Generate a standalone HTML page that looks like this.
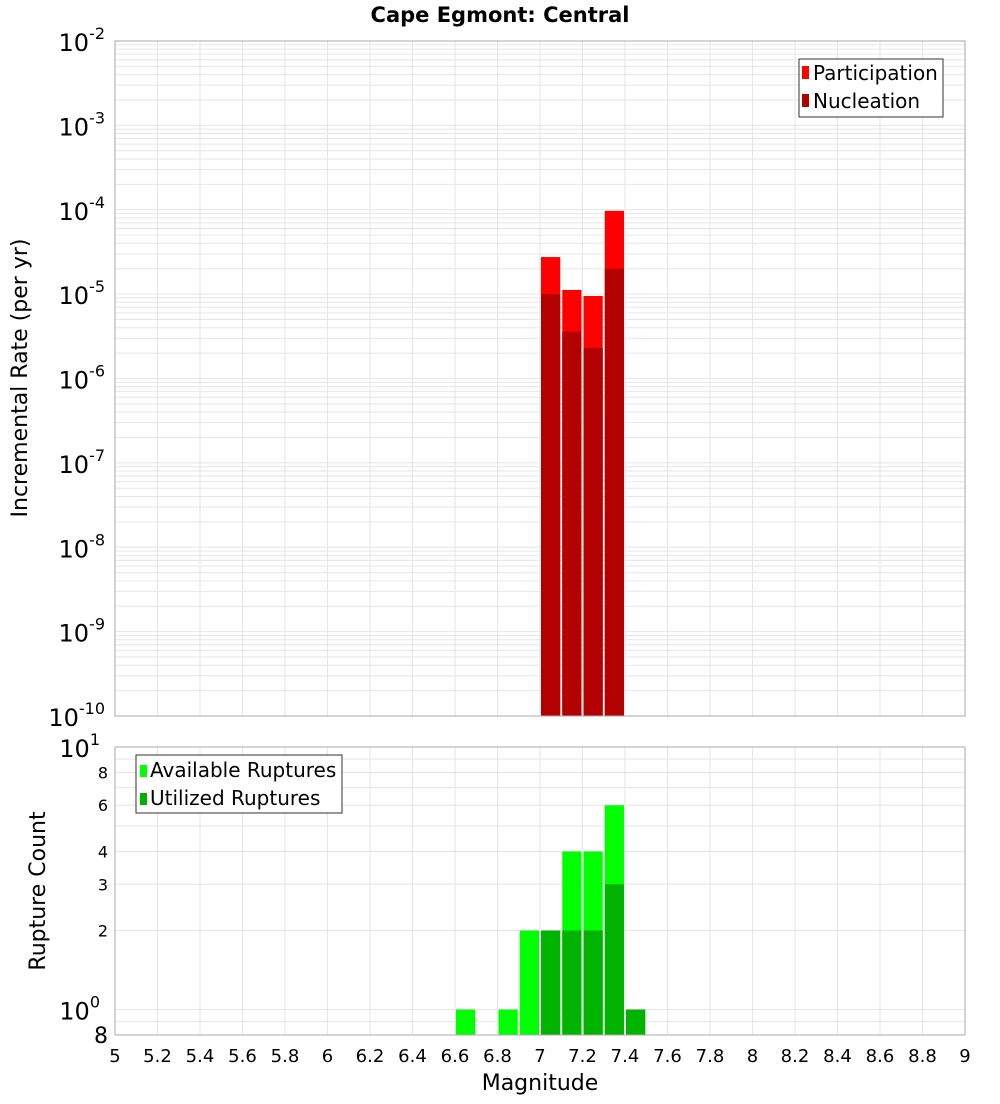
<!DOCTYPE html>
<html><head><meta charset="utf-8"><style>
body{margin:0;background:#fff;font-family:"DejaVu Sans","Liberation Sans",sans-serif}
</style></head><body>
<svg id="c" width="1000" height="1100" xmlns="http://www.w3.org/2000/svg" font-family="DejaVu Sans, Liberation Sans, sans-serif">
<text x="500" y="22" text-anchor="middle" font-size="21" font-weight="bold">Cape Egmont: Central</text>
<g id="topg"></g>
<g id="botg"></g>
<text transform="translate(27,378) rotate(-90)" text-anchor="middle" font-size="22">Incremental Rate (per yr)</text>
<text transform="translate(45,891) rotate(-90)" text-anchor="middle" font-size="22">Rupture Count</text>
<text x="540" y="1090" text-anchor="middle" font-size="22">Magnitude</text>
<g>
<rect x="799" y="59" width="144" height="58" fill="#fff" stroke="#333"/>
<rect x="802" y="66" width="7" height="13" fill="#ff0000"/>
<text x="813" y="80" font-size="20">Participation</text>
<rect x="802" y="94" width="7" height="13" fill="#b30000"/>
<text x="813" y="108" font-size="20">Nucleation</text>
</g>
<g>
<rect x="136" y="755" width="206" height="58" fill="#fff" stroke="#333"/>
<rect x="140" y="765" width="7" height="12" fill="#00ff00"/>
<text x="150" y="777" font-size="20">Available Ruptures</text>
<rect x="140" y="793" width="7" height="12" fill="#00b300"/>
<text x="150" y="805" font-size="20">Utilized Ruptures</text>
</g>
</svg>
<script>
const bins=[7.05,7.15,7.25,7.35];
const participation=[2.75e-5,1.12e-5,9.5e-6,9.7e-5];
const nucleation=[1.0e-5,3.6e-6,2.3e-6,2.0e-5];
const cbins=[6.65,6.85,6.95,7.05,7.15,7.25,7.35,7.45];
const available=[1,1,2,2,4,4,6,1];
const utilized=[0,0,0,2,2,2,3,1];
const xTicks=[5,5.2,5.4,5.6,5.8,6,6.2,6.4,6.6,6.8,7,7.2,7.4,7.6,7.8,8,8.2,8.4,8.6,8.8,9];
const NS="http://www.w3.org/2000/svg";
const L=115,R=965;
const x=m=>L+(m-5)/4*(R-L);
const yT=v=>41+(-2-Math.log10(v))*(716-41)/8;
const yB=v=>747+(1-Math.log10(v))*(1035-747)/(1-Math.log10(0.8));
function mk(p,t,a){const e=document.createElementNS(NS,t);for(const k in a)e.setAttribute(k,a[k]);p.appendChild(e);return e;}
const topG=document.getElementById('topg'),botG=document.getElementById('botg');
for(let d=-10;d<-2;d++)for(let k=1;k<10;k++){const yy=yT(k*Math.pow(10,d));
 const g=mk(topG,'line',{x1:L,x2:R,y1:yy,y2:yy,stroke:'#e6e6e6','stroke-width':1});
 
 }
xTicks.forEach(t=>{[topG,botG].forEach((p,i)=>{const g=mk(p,'line',{x1:x(t),x2:x(t),y1:i?747:41,y2:i?1035:716,stroke:'#e6e6e6'});
 
 });});
[0.9,1,2,3,4,5,6,7,8,9].forEach(v=>{const g=mk(botG,'line',{x1:L,x2:R,y1:yB(v),y2:yB(v),stroke:'#e6e6e6'});
 
 });
const bw=x(5.1)-x(5);
bins.forEach((b,i)=>{
 const r1=mk(topG,'rect',{x:x(b-0.05)+1,width:bw-2,y:yT(participation[i]),height:716-yT(participation[i]),fill:'#ff0000'});
 
 
 const r2=mk(topG,'rect',{x:x(b-0.05)+1,width:bw-2,y:yT(nucleation[i]),height:716-yT(nucleation[i]),fill:'#b30000'});
 
 
});
cbins.forEach((b,i)=>{
 const r1=mk(botG,'rect',{x:x(b-0.05)+1,width:bw-2,y:yB(available[i]),height:1035-yB(available[i]),fill:'#00ff00'});
 
 
 if(utilized[i]>0){const r2=mk(botG,'rect',{x:x(b-0.05)+1,width:bw-2,y:yB(utilized[i]),height:1035-yB(utilized[i]),fill:'#00b300'});
 
 }
});
mk(topG,'rect',{x:L,y:41,width:R-L,height:675,fill:'none',stroke:'#aaa'});
mk(botG,'rect',{x:L,y:747,width:R-L,height:288,fill:'none',stroke:'#aaa'});
for(let d=-10;d<=-2;d++){const t=mk(topG,'text',{x:105,y:yT(Math.pow(10,d))+10,'text-anchor':'end','font-size':24});
 
 
 t.innerHTML='10<tspan dy="-12" font-size="16">'+d+'</tspan>';}
[[10,'1'],[1,'0']].forEach(([v,e])=>{const t=mk(botG,'text',{x:100,y:yB(v)+10,'text-anchor':'end','font-size':24});
 
 
 t.innerHTML='10<tspan dy="-12" font-size="16">'+e+'</tspan>';});
[[8,'8'],[6,'6'],[4,'4'],[3,'3'],[2,'2']].forEach(([v,s])=>{const t=mk(botG,'text',{x:108,y:yB(v)+6,'text-anchor':'end','font-size':16});
 
 
 t.textContent=s;});
{const t=mk(botG,'text',{x:108,y:1043,'text-anchor':'end','font-size':22});
 
 
 t.textContent='8';}
xTicks.forEach(v=>{const t=mk(botG,'text',{x:x(v),y:1062,'text-anchor':'middle','font-size':18});
 
 
 t.textContent=String(v);});
</script>
</body></html>
